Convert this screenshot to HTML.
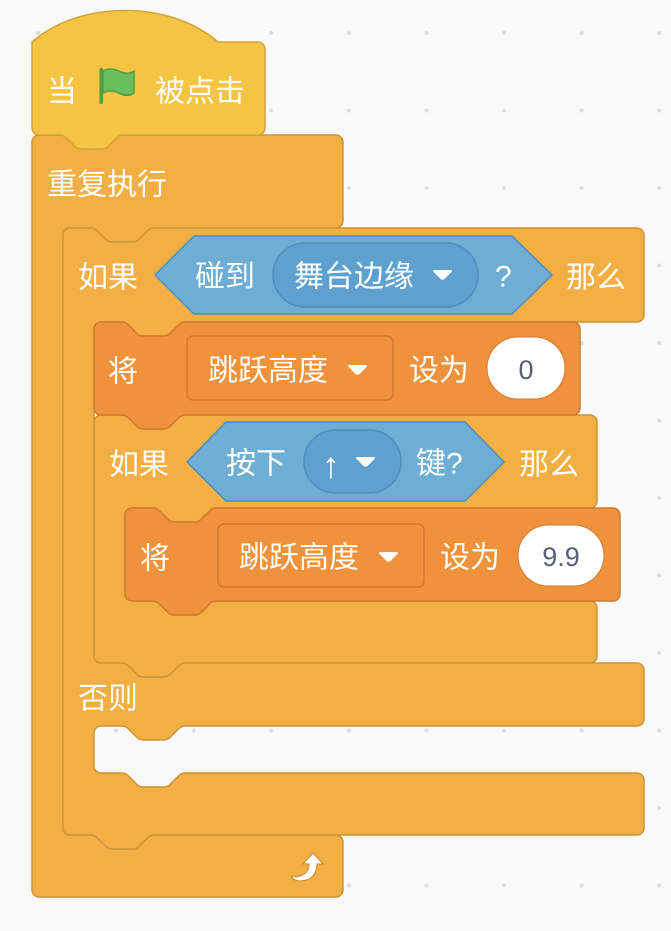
<!DOCTYPE html>
<html><head><meta charset="utf-8"><style>
html,body{margin:0;padding:0;background:#F9F9F9;}
svg{display:block}
text{font-family:"Liberation Sans","Noto Sans CJK SC",sans-serif;font-size:30px;fill:#fff;dominant-baseline:central}
.n{fill:#575E75;font-family:"Liberation Sans",sans-serif;font-size:27px}
</style></head><body>
<svg width="671" height="931" viewBox="0 0 671 931" xmlns="http://www.w3.org/2000/svg">
<defs>
<pattern id="g" x="38.5" y="33" width="77.6" height="77.5" patternUnits="userSpaceOnUse">
<circle cx="0" cy="0" r="2" fill="#DDDDDD"/><circle cx="77.6" cy="0" r="2" fill="#DDDDDD"/><circle cx="0" cy="77.5" r="2" fill="#DDDDDD"/><circle cx="77.6" cy="77.5" r="2" fill="#DDDDDD"/>
</pattern>
</defs>
<rect width="671" height="931" fill="#F9F9F9"/>
<rect width="671" height="931" fill="url(#g)"/>

<path fill="#F3AF43" stroke="#CC9537" stroke-width="1.5" d="M32,142 a7,7 0 0 1 7,-7 H60 c3.5,0 5.25,1.75 7,3.5 l7,7 c1.75,1.75 3.5,3.5 7,3.5 h21 c3.5,0 5.25,-1.75 7,-3.5 l7,-7 c1.75,-1.75 3.5,-3.5 7,-3.5 H336 a7,7 0 0 1 7,7 V221 a7,7 0 0 1 -7,7 H154 c-3.5,0 -5.25,1.75 -7,3.5 l-7,7 c-1.75,1.75 -3.5,3.5 -7,3.5 h-21 c-3.5,0 -5.25,-1.75 -7,-3.5 l-7,-7 c-1.75,-1.75 -3.5,-3.5 -7,-3.5 H70 a7,7 0 0 0 -7,7 V828 a7,7 0 0 0 7,7 H91 c3.5,0 5.25,1.75 7,3.5 l7,7 c1.75,1.75 3.5,3.5 7,3.5 h21 c3.5,0 5.25,-1.75 7,-3.5 l7,-7 c1.75,-1.75 3.5,-3.5 7,-3.5 H336 a7,7 0 0 1 7,7 V890 a7,7 0 0 1 -7,7 H39 a7,7 0 0 1 -7,-7 Z"/>

<path fill="#F6C443" stroke="#CFA43A" stroke-width="1.5" d="M32,42 c48,-42 138,-42 186,0 H258 a7,7 0 0 1 7,7 V128 a7,7 0 0 1 -7,7 H123 c-3.5,0 -5.25,1.75 -7,3.5 l-7,7 c-1.75,1.75 -3.5,3.5 -7,3.5 h-21 c-3.5,0 -5.25,-1.75 -7,-3.5 l-7,-7 c-1.75,-1.75 -3.5,-3.5 -7,-3.5 H39 a7,7 0 0 1 -7,-7 Z"/>

<path fill="#F3AF43" stroke="#CC9537" stroke-width="1.5" d="M63,235 a7,7 0 0 1 7,-7 H91 c3.5,0 5.25,1.75 7,3.5 l7,7 c1.75,1.75 3.5,3.5 7,3.5 h21 c3.5,0 5.25,-1.75 7,-3.5 l7,-7 c1.75,-1.75 3.5,-3.5 7,-3.5 H637 a7,7 0 0 1 7,7 V315 a7,7 0 0 1 -7,7 H185 c-3.5,0 -5.25,1.75 -7,3.5 l-7,7 c-1.75,1.75 -3.5,3.5 -7,3.5 h-21 c-3.5,0 -5.25,-1.75 -7,-3.5 l-7,-7 c-1.75,-1.75 -3.5,-3.5 -7,-3.5 H101 a7,7 0 0 0 -7,7 V656 a7,7 0 0 0 7,7 H122 c3.5,0 5.25,1.75 7,3.5 l7,7 c1.75,1.75 3.5,3.5 7,3.5 h21 c3.5,0 5.25,-1.75 7,-3.5 l7,-7 c1.75,-1.75 3.5,-3.5 7,-3.5 H637 a7,7 0 0 1 7,7 V719 a7,7 0 0 1 -7,7 H185 c-3.5,0 -5.25,1.75 -7,3.5 l-7,7 c-1.75,1.75 -3.5,3.5 -7,3.5 h-21 c-3.5,0 -5.25,-1.75 -7,-3.5 l-7,-7 c-1.75,-1.75 -3.5,-3.5 -7,-3.5 H101 a7,7 0 0 0 -7,7 V766 a7,7 0 0 0 7,7 H122 c3.5,0 5.25,1.75 7,3.5 l7,7 c1.75,1.75 3.5,3.5 7,3.5 h21 c3.5,0 5.25,-1.75 7,-3.5 l7,-7 c1.75,-1.75 3.5,-3.5 7,-3.5 H637 a7,7 0 0 1 7,7 V828 a7,7 0 0 1 -7,7 H154 c-3.5,0 -5.25,1.75 -7,3.5 l-7,7 c-1.75,1.75 -3.5,3.5 -7,3.5 h-21 c-3.5,0 -5.25,-1.75 -7,-3.5 l-7,-7 c-1.75,-1.75 -3.5,-3.5 -7,-3.5 H70 a7,7 0 0 1 -7,-7 Z"/>

<path fill="#F3AF43" stroke="#CC9537" stroke-width="1.5" d="M94,422 a7,7 0 0 1 7,-7 H122 c3.5,0 5.25,1.75 7,3.5 l7,7 c1.75,1.75 3.5,3.5 7,3.5 h21 c3.5,0 5.25,-1.75 7,-3.5 l7,-7 c1.75,-1.75 3.5,-3.5 7,-3.5 H590 a7,7 0 0 1 7,7 V501 a7,7 0 0 1 -7,7 H216 c-3.5,0 -5.25,1.75 -7,3.5 l-7,7 c-1.75,1.75 -3.5,3.5 -7,3.5 h-21 c-3.5,0 -5.25,-1.75 -7,-3.5 l-7,-7 c-1.75,-1.75 -3.5,-3.5 -7,-3.5 H132 a7,7 0 0 0 -7,7 V594 a7,7 0 0 0 7,7 H153 c3.5,0 5.25,1.75 7,3.5 l7,7 c1.75,1.75 3.5,3.5 7,3.5 h21 c3.5,0 5.25,-1.75 7,-3.5 l7,-7 c1.75,-1.75 3.5,-3.5 7,-3.5 H590 a7,7 0 0 1 7,7 V656 a7,7 0 0 1 -7,7 H185 c-3.5,0 -5.25,1.75 -7,3.5 l-7,7 c-1.75,1.75 -3.5,3.5 -7,3.5 h-21 c-3.5,0 -5.25,-1.75 -7,-3.5 l-7,-7 c-1.75,-1.75 -3.5,-3.5 -7,-3.5 H101 a7,7 0 0 1 -7,-7 Z"/>

<path fill="#F0913B" stroke="#CF7A30" stroke-width="1.5" d="M94,329 a7,7 0 0 1 7,-7 H122 c3.5,0 5.25,1.75 7,3.5 l7,7 c1.75,1.75 3.5,3.5 7,3.5 h21 c3.5,0 5.25,-1.75 7,-3.5 l7,-7 c1.75,-1.75 3.5,-3.5 7,-3.5 H573 a7,7 0 0 1 7,7 V408 a7,7 0 0 1 -7,7 H185 c-3.5,0 -5.25,1.75 -7,3.5 l-7,7 c-1.75,1.75 -3.5,3.5 -7,3.5 h-21 c-3.5,0 -5.25,-1.75 -7,-3.5 l-7,-7 c-1.75,-1.75 -3.5,-3.5 -7,-3.5 H101 a7,7 0 0 1 -7,-7 Z"/>

<path fill="#F0913B" stroke="#CF7A30" stroke-width="1.5" d="M125,515 a7,7 0 0 1 7,-7 H153 c3.5,0 5.25,1.75 7,3.5 l7,7 c1.75,1.75 3.5,3.5 7,3.5 h21 c3.5,0 5.25,-1.75 7,-3.5 l7,-7 c1.75,-1.75 3.5,-3.5 7,-3.5 H613 a7,7 0 0 1 7,7 V594 a7,7 0 0 1 -7,7 H216 c-3.5,0 -5.25,1.75 -7,3.5 l-7,7 c-1.75,1.75 -3.5,3.5 -7,3.5 h-21 c-3.5,0 -5.25,-1.75 -7,-3.5 l-7,-7 c-1.75,-1.75 -3.5,-3.5 -7,-3.5 H132 a7,7 0 0 1 -7,-7 Z"/>

<text x="47" y="92">当</text>
<rect x="99.5" y="68" width="3.5" height="36" rx="1.5" fill="#4F9E44"/>
<path d="M103,71 c8,-4 14,-1 18,1 c5,2 9,2 13,-1 V93 c-4,3 -8,3 -13,1 c-4,-2 -10,-5 -18,-1 Z" fill="#6CBF5F" stroke="#4F9E44" stroke-width="1.5" stroke-linejoin="round"/>
<text x="155" y="92">被点击</text>

<text x="47" y="185">重复执行</text>

<text x="78" y="278">如果</text>
<polygon points="155,275 194,236 512,236 552,275 512,314 194,314" fill="#6EAED5" stroke="#4E8DBF" stroke-width="1.5"/>
<text x="195" y="277">碰到</text>
<rect x="273" y="243" width="205" height="64" rx="32" fill="#5FA1CE" stroke="#4E8DBF" stroke-width="1.5"/>
<text x="294" y="277">舞台边缘</text>
<path d="M434,271 h17 l-7,7 q-1.5,1.5 -3,0 Z" fill="#fff" stroke="#fff" stroke-width="2" stroke-linejoin="round"/>
<text x="495" y="277">?</text>
<text x="566" y="278">那么</text>

<text x="108" y="372">将</text>
<rect x="187" y="336" width="206" height="64" rx="6" fill="#F0913B" stroke="#CF7A30" stroke-width="1.5"/>
<text x="208" y="371">跳跃高度</text>
<path d="M349,366 h17 l-7,7 q-1.5,1.5 -3,0 Z" fill="#fff" stroke="#fff" stroke-width="2" stroke-linejoin="round"/>
<text x="409" y="371">设为</text>
<rect x="487" y="337" width="78" height="62" rx="31" fill="#fff" stroke="#CF7A30" stroke-width="1"/>
<text x="526" y="370" class="n" text-anchor="middle">0</text>

<text x="109" y="465">如果</text>
<polygon points="187,462 226,422 465,422 504,462 465,501 226,501" fill="#6EAED5" stroke="#4E8DBF" stroke-width="1.5"/>
<text x="226" y="464">按下</text>
<rect x="304" y="430" width="97" height="63" rx="31.5" fill="#5FA1CE" stroke="#4E8DBF" stroke-width="1.5"/>
<text x="322" y="465" style="font-size:36px">↑</text>
<path d="M357,458 h17 l-7,7 q-1.5,1.5 -3,0 Z" fill="#fff" stroke="#fff" stroke-width="2" stroke-linejoin="round"/>
<text x="416" y="464">键?</text>
<text x="519" y="465">那么</text>

<text x="140" y="559">将</text>
<rect x="218" y="524" width="206" height="63" rx="6" fill="#F0913B" stroke="#CF7A30" stroke-width="1.5"/>
<text x="239" y="558">跳跃高度</text>
<path d="M380,553 h17 l-7,7 q-1.5,1.5 -3,0 Z" fill="#fff" stroke="#fff" stroke-width="2" stroke-linejoin="round"/>
<text x="440" y="558">设为</text>
<rect x="518" y="525" width="86" height="61" rx="30.5" fill="#fff" stroke="#CF7A30" stroke-width="1"/>
<text x="561" y="557" class="n" text-anchor="middle">9.9</text>

<text x="78" y="699">否则</text>

<path d="M313,853 l10,11 h-6 c0,10 -6,17 -17,17 c-4,0 -8,-2 -9,-5 c3,1 6,1 9,0 c6,-2 9,-6 9,-12 h-6 Z" fill="#fff" stroke="#CC9537" stroke-width="1.2" stroke-linejoin="round"/>
</svg>
</body></html>
